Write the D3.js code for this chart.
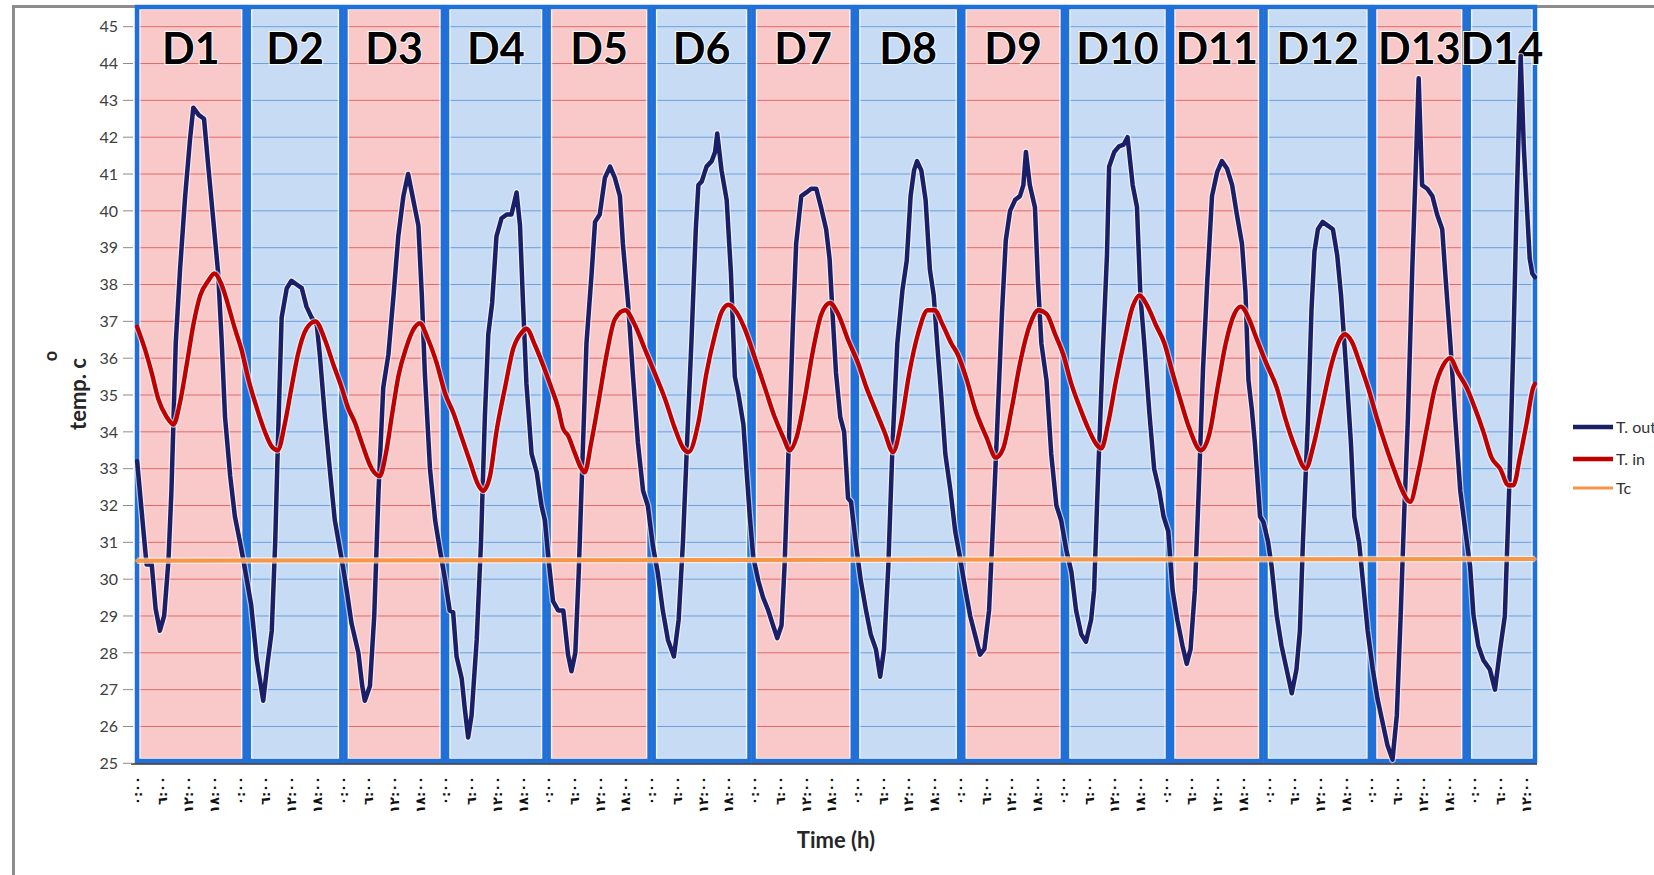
<!DOCTYPE html>
<html>
<head>
<meta charset="utf-8">
<script src="https://d3js.org/d3.v7.min.js"></script>
<style>
  html, body { margin: 0; padding: 0; background: #fff; overflow: hidden; }
  text { font-family: Lato, 'Open Sans', sans-serif; }
  .ytick { font-size: 16px; fill: #404040; }
  .xtick { font-family: 'DejaVu Sans', sans-serif; font-size: 13px; font-weight: bold; fill: #111; }
  .dayLabel { font-size: 43px; font-weight: bold; fill: #000; stroke: #fff; stroke-width: 2px; paint-order: stroke; }
  .axisTitle { font-size: 22px; font-weight: bold; fill: #262626; }
  .legendText { font-size: 16px; fill: #333; }
</style>
</head>
<body>
<div id="chart"></div>
<script>

// ---------------------------------------------------------------- data
// hours since start of D1
const dayLabels = ["D1","D2","D3","D4","D5","D6","D7","D8","D9","D10","D11","D12","D13","D14"];
const dayBounds = [-0.5, 25.55, 48.1, 71.8, 95.5, 120.0, 143.3, 167.4, 192.2, 216.4, 240.9, 262.7, 288.0, 310.1, 326.5];

const yTicks = [25,26,27,28,29,30,31,32,33,34,35,36,37,38,39,40,41,42,43,44,45];
const xTickText = ["٠:٠٠", "٦:٠٠", "١٢:٠٠", "١٨:٠٠"];
const xTickHours = [0,6,12,18,24,30,36,42,48,54,60,66,72,78,84,90,96,102,108,114,120,126,132,138,
  144,150,156,162,168,174,180,186,192,198,204,210,216,222,228,234,240,246,252,258,264,270,276,282,
  288,294,300,306,312,318,324];

// T. out  [hour, temp]
const tOut = [
  [0,33.2],[1.4,31.4],[2.2,30.4],[3.4,30.4],[4.3,29.2],[5.3,28.6],[6.3,29.0],[7.3,30.5],[8.0,32.4],[9.0,36.4],
  [10.0,38.4],[11.2,40.4],[12.3,41.9],[13.1,42.8],[14.4,42.6],[15.6,42.5],[16.6,41.2],[17.8,39.7],[18.9,38.3],
  [19.7,36.5],[20.5,34.4],[21.7,32.8],[22.8,31.7],[24.0,31.0],[24.8,30.5],
  [26.6,29.3],[27.9,27.8],[29.4,26.7],[30.4,27.7],[31.4,28.6],[32.2,31.0],[32.9,34.0],[33.7,37.1],[34.9,37.9],
  [36.0,38.1],[37.2,38.0],[38.4,37.9],[39.5,37.4],[40.7,37.1],[41.9,36.9],[42.6,36.1],[43.8,34.4],[45.0,32.9],
  [46.1,31.6],[47.3,30.8],[48.2,30.2],[49.0,29.6],
  [50.0,28.8],[51.6,28.0],[52.5,27.1],[53.1,26.7],[54.3,27.1],[55.3,29.0],[56.3,32.4],[57.4,35.2],[58.6,36.1],
  [59.8,37.7],[60.9,39.3],[62.1,40.4],[63.2,41.0],[64.4,40.3],[65.6,39.6],[66.4,37.7],[67.1,35.6],[68.3,33.0],
  [69.5,31.6],[70.6,30.8],[71.8,30.0],
  [72.9,29.15],[73.7,29.1],[74.5,27.9],[75.7,27.3],[76.4,26.5],[77.2,25.7],[78.0,26.3],[79.2,28.35],[80.2,31.0],
  [81.1,34.4],[81.9,36.65],[82.8,37.5],[83.8,39.3],[85.0,39.8],[86.2,39.9],[87.3,39.9],[88.5,40.5],[89.3,39.6],
  [90.0,37.5],[90.8,35.3],[92.0,33.4],[93.2,32.9],[94.3,32.0],[95.1,31.6],
  [95.9,30.6],[97.0,29.4],[98.2,29.15],[99.4,29.15],[100.5,27.95],[101.3,27.5],[102.2,28.0],[103.0,30.2],
  [103.8,33.0],[104.8,36.4],[106.0,38.3],[106.8,39.7],[107.9,39.9],[109.1,40.9],[110.3,41.2],[111.4,40.9],
  [112.6,40.4],[113.3,39.1],[114.5,37.5],[115.6,35.6],[116.8,33.7],[118.0,32.4],[119.1,32.0],
  [120.3,30.9],[121.4,30.2],[122.6,29.15],[123.8,28.35],[125.2,27.9],[126.3,28.9],[127.3,31.0],[128.3,33.8],
  [129.3,36.5],[130.3,39.5],[130.9,40.7],[131.7,40.8],[132.8,41.2],[134.0,41.35],[134.8,41.6],[135.3,42.1],
  [136.3,41.1],[137.5,40.3],[138.5,38.3],[139.4,35.5],[140.2,35.05],[141.4,34.2],[142.1,33.0],[142.9,31.7],[143.7,30.6],
  [144.9,29.95],[146.0,29.5],[147.2,29.15],[148.3,28.75],[149.3,28.4],[150.3,28.75],[151.0,30.35],[152.2,34.4],
  [153.0,37.05],[153.7,39.1],[154.9,40.4],[156.1,40.5],[157.2,40.6],[158.4,40.6],[159.5,40.1],[160.7,39.5],
  [161.5,38.7],[162.2,37.2],[163.0,35.6],[164.0,34.4],[164.9,34.0],[165.8,32.2],[166.5,32.1],[167.6,31.0],
  [168.8,29.95],[170.0,29.15],[171.1,28.5],[172.3,28.1],[173.3,27.35],[174.2,28.1],[175.2,30.35],[176.2,33.7],
  [177.3,36.4],[178.5,37.85],[179.5,38.65],[180.4,40.4],[181.2,41.1],[181.9,41.35],[182.9,41.1],[183.9,40.3],
  [184.9,38.4],[185.8,37.7],[186.6,36.4],[187.5,35.05],[188.5,33.4],[189.7,32.4],[190.8,31.3],[191.9,30.6],
  [193.2,29.7],[194.3,29.0],[195.4,28.5],[196.6,27.95],[197.6,28.1],[198.7,29.15],[199.7,31.7],[200.7,34.4],
  [201.7,37.2],[202.6,39.2],[203.6,40.0],[204.8,40.3],[205.9,40.4],[206.7,40.7],[207.3,41.6],[208.2,40.7],
  [209.4,40.1],[210.1,38.1],[210.9,36.4],[212.1,35.4],[213.2,33.4],[214.4,32.0],[215.5,31.6],[216.7,30.8],
  [217.9,30.2],[219.0,29.15],[220.2,28.5],[221.3,28.3],[222.5,28.9],[223.2,29.7],[224.0,32.4],[225.2,36.1],
  [226.2,38.8],[226.7,41.2],[227.9,41.6],[229.0,41.75],[230.1,41.8],[231.0,42.0],[232.2,40.7],[233.2,40.1],
  [234.0,37.7],[234.9,36.4],[236.1,34.5],[237.2,33.0],[238.4,32.4],[239.4,31.7],[240.5,31.3],
  [241.5,29.7],[242.6,28.9],[243.8,28.2],[244.8,27.7],[245.7,28.1],[246.7,29.7],[247.6,32.4],[248.6,35.7],
  [249.6,38.1],[250.7,40.4],[251.9,41.05],[253.0,41.35],[254.2,41.15],[255.4,40.7],[256.5,39.9],[257.7,39.1],
  [258.5,37.8],[259.2,35.4],[260.0,34.6],[260.7,33.7],[261.9,31.7],[262.7,31.55],
  [263.8,31.0],[264.6,30.35],[265.8,29.0],[266.9,28.2],[268.1,27.55],[269.3,26.9],[270.4,27.55],[271.2,28.6],
  [271.9,31.0],[273.1,34.4],[273.9,37.3],[274.6,38.9],[275.4,39.5],[276.5,39.7],[277.7,39.6],[278.9,39.5],
  [279.9,38.8],[280.8,37.7],[282.0,35.7],[283.1,33.7],[283.9,31.7],[285.0,31.0],[286.1,29.7],[287.0,28.6],
  [288.2,27.55],[289.3,26.75],[290.5,26.1],[291.6,25.5],[292.8,25.1],[293.8,26.3],[294.7,29.0],[295.5,31.7],
  [296.4,34.4],[297.4,38.4],[298.2,41.1],[298.9,43.6],[299.7,40.7],[300.9,40.6],[302.1,40.4],[303.2,39.9],
  [304.4,39.5],[305.1,38.3],[306.3,36.4],[307.4,34.4],[308.6,32.4],[309.8,31.3],
  [310.9,30.35],[311.7,29.0],[312.8,28.2],[314.0,27.8],[315.5,27.55],[316.7,27.0],[317.9,28.1],[319.0,29.0],
  [320.0,32.4],[321.0,36.4],[321.8,40.4],[322.7,44.2],[323.4,41.8],[324.1,40.2],[324.8,38.7],[325.4,38.3],[326,38.2]
];

// T. in  [hour, temp]
const tIn = [
  [0,36.85],[1.8,36.25],[3.4,35.6],[4.9,34.9],[6.9,34.4],[8.5,34.2],[10.0,34.8],[11.6,35.85],[13.1,36.9],
  [14.7,37.7],[16.6,38.1],[18.0,38.3],[19.7,38.0],[21.2,37.45],[22.8,36.8],[24.4,36.2],[25.9,35.45],[27.9,34.65],
  [29.8,34.0],[31.4,33.6],[32.8,33.5],[34.5,34.25],[36.0,35.2],[37.5,36.1],[39.5,36.8],[41.6,37.0],[43.8,36.5],
  [45.7,35.85],[47.7,35.2],[49.2,34.65],[50.8,34.25],[52.4,33.7],[54.7,33.0],[56.6,32.8],[58.0,33.4],[59.5,34.5],
  [61.0,35.55],[62.8,36.3],[64.3,36.75],[65.9,36.95],[67.9,36.5],[69.9,35.85],[71.8,35.05],[73.8,34.5],
  [75.7,33.85],[77.6,33.2],[79.6,32.55],[80.7,32.4],[82.3,32.8],[83.8,34.0],[85.8,35.2],[87.7,36.25],[89.7,36.7],
  [90.8,36.8],[92.8,36.35],[94.7,35.8],[96.6,35.2],[98.2,34.65],[99.3,34.1],[100.5,33.9],[102.0,33.45],
  [103.6,33.0],[104.4,32.9],[105.9,33.7],[107.6,34.8],[109.5,36.1],[111.4,37.05],[113.8,37.3],[116.1,36.9],
  [118.4,36.25],[120.7,35.6],[123.1,34.9],[125.4,34.1],[127.4,33.55],[128.6,33.45],[130.9,34.25],[132.8,35.6],
  [134.8,36.65],[136.3,37.25],[137.9,37.45],[139.8,37.25],[141.7,36.8],[144.1,36.0],[146.4,35.2],[148.7,34.4],
  [150.7,33.85],[152.2,33.5],[153.8,33.85],[155.7,34.9],[157.7,36.25],[159.6,37.2],[161.6,37.5],[163.5,37.2],
  [165.8,36.5],[168.2,35.85],[170.1,35.2],[172.0,34.65],[174.3,34.0],[176.3,33.45],[178.2,34.25],[180.1,35.6],
  [182.1,36.65],[184.4,37.3],[186.0,37.3],[187.9,36.9],[189.9,36.4],[191.4,36.1],[193.4,35.45],[195.5,34.6],
  [198.1,33.85],[200.3,33.3],[202.0,33.55],[204.0,34.65],[205.9,35.85],[208.2,36.9],[210.2,37.3],[212.1,37.2],
  [214.1,36.65],[216.0,36.1],[217.9,35.3],[219.9,34.65],[221.8,34.1],[223.8,33.65],[224.9,33.55],[226.5,34.25],
  [228.4,35.45],[230.3,36.5],[232.2,37.4],[233.8,37.7],[235.7,37.4],[237.6,36.9],[239.6,36.4],[241.5,35.6],
  [243.5,34.8],[245.4,34.1],[248.1,33.5],[250.1,33.95],[252.0,35.2],[253.9,36.4],[255.9,37.2],[257.4,37.4],
  [259.4,37.05],[260.7,36.65],[263.4,35.85],[265.8,35.2],[267.7,34.4],[270.0,33.6],[272.6,33.0],[274.3,33.6],
  [276.3,34.65],[278.6,35.85],[280.5,36.5],[281.7,36.65],[283.3,36.45],[285.2,35.85],[287.1,35.2],[289.1,34.4],
  [291.0,33.7],[293.4,32.9],[295.3,32.35],[296.9,32.1],[298.8,32.9],[300.8,34.1],[302.7,35.2],[304.6,35.8],
  [306.2,36.0],[308.1,35.6],[310.1,35.2],[312.0,34.65],[314.0,34.0],[315.9,33.3],[317.9,33.0],[319.8,32.55],
  [321.0,32.55],[322.5,33.3],[324.1,34.25],[325.6,35.2],[326,35.3]
];

// Tc
const tc = [[0,30.5],[326,30.55]];

const series = [
  {name: "T. out", data: tOut, color: "#1a1f68", width: 4.5, curve: d3.curveLinear},
  {name: "T. in",  data: tIn,  color: "#c00000", width: 4.4, curve: d3.curveMonotoneX},
  {name: "Tc",     data: tc,   color: "#f79646", width: 4,   curve: d3.curveLinear}
];

// ---------------------------------------------------------------- setup
const W = 1654, H = 875;
const svg = d3.select("#chart").append("svg").attr("width", W).attr("height", H);

const x = d3.scaleLinear().domain([-0.5, 326.5]).range([135, 1537]);
const y = d3.scaleLinear().domain([25, 45]).range([763.3, 26.7]);

const pink = {fill: "#f9c8c8", grid: "#e06a6a"};
const blue = {fill: "#c7dcf4", grid: "#6a9fdc"};

// chart frame (clipped by the screenshot)
svg.append("path")
  .attr("d", "M13.5," + H + " V6.5 H" + W)
  .attr("fill", "none").attr("stroke", "#8c8c8c").attr("stroke-width", 3);

// day columns
const cols = dayLabels.map((label, i) => ({
  label: label,
  x0: x(dayBounds[i]),
  x1: x(dayBounds[i + 1]),
  c: i % 2 === 0 ? pink : blue
}));

const colG = svg.append("g");
colG.selectAll("rect.fill").data(cols).enter().append("rect")
  .attr("x", d => d.x0).attr("y", 5)
  .attr("width", d => d.x1 - d.x0).attr("height", 758)
  .attr("fill", d => d.c.fill);

// gridlines, tinted per column
cols.forEach(d => {
  colG.selectAll(null).data(yTicks).enter().append("line")
    .attr("x1", d.x0).attr("x2", d.x1)
    .attr("y1", v => y(v)).attr("y2", v => y(v))
    .attr("stroke", d.c.grid).attr("stroke-width", 1);
});

// x axis line
svg.append("line")
  .attr("x1", 131).attr("x2", x(326.5))
  .attr("y1", 764).attr("y2", 764)
  .attr("stroke", "#333").attr("stroke-width", 1.5);

// column borders with a white inner glow
colG.selectAll("rect.glow").data(cols).enter().append("rect")
  .attr("x", d => d.x0 + 5).attr("y", 9.5)
  .attr("width", d => d.x1 - d.x0 - 10).attr("height", 749)
  .attr("fill", "none").attr("stroke", "#fff").attr("stroke-opacity", 0.8).attr("stroke-width", 1.3);
colG.selectAll("rect.border").data(cols).enter().append("rect")
  .attr("x", d => d.x0 + 2).attr("y", 7)
  .attr("width", d => d.x1 - d.x0 - 4).attr("height", 754)
  .attr("fill", "none").attr("stroke", "#1f70d8").attr("stroke-width", 4.5);

// y axis ticks + labels
const yG = svg.append("g");
yG.selectAll("line").data(yTicks).enter().append("line")
  .attr("x1", 123).attr("x2", 133)
  .attr("y1", v => y(v)).attr("y2", v => y(v))
  .attr("stroke", "#8c8c8c").attr("stroke-width", 1);
yG.selectAll("text").data(yTicks).enter().append("text")
  .attr("class", "ytick")
  .attr("x", 118).attr("y", v => y(v)).attr("dy", "0.36em")
  .attr("text-anchor", "end")
  .text(v => v);

// x tick labels, rotated
svg.append("g").selectAll("text").data(xTickHours).enter().append("text")
  .attr("class", "xtick")
  .attr("transform", h => "translate(" + x(h) + ",776) rotate(-90)")
  .attr("dy", "0.35em")
  .attr("text-anchor", "end")
  .text((h, i) => xTickText[i % 4]);

// day labels
svg.append("g").selectAll("text").data(cols).enter().append("text")
  .attr("class", "dayLabel")
  .attr("x", d => (d.x0 + d.x1) / 2).attr("y", 64)
  .attr("text-anchor", "middle")
  .text(d => d.label);

// series
series.forEach(s => {
  const line = d3.line().x(d => x(d[0])).y(d => y(d[1])).curve(s.curve);
  svg.append("path").datum(s.data)
    .attr("d", line).attr("fill", "none")
    .attr("stroke", "#fff").attr("stroke-opacity", 0.6)
    .attr("stroke-width", s.width + 2.5).attr("stroke-linejoin", "round");
  svg.append("path").datum(s.data)
    .attr("d", line).attr("fill", "none")
    .attr("stroke", s.color).attr("stroke-width", s.width)
    .attr("stroke-linejoin", "round").attr("stroke-linecap", "round");
});

// axis titles
svg.append("text").attr("class", "axisTitle")
  .attr("x", 836).attr("y", 848).attr("text-anchor", "middle")
  .text("Time (h)");
svg.append("text").attr("class", "axisTitle")
  .attr("transform", "translate(86,394) rotate(-90)")
  .attr("text-anchor", "middle")
  .text("temp. c");
svg.append("text").attr("class", "axisTitle")
  .attr("transform", "translate(57,356) rotate(-90)")
  .attr("text-anchor", "middle")
  .style("font-size", "18px")
  .text("o");

// legend
const legY = [427, 459, 488];
const leg = svg.append("g").selectAll("g").data(series).enter().append("g")
  .attr("transform", (d, i) => "translate(1573," + legY[i] + ")");
leg.append("line").attr("x1", 0).attr("x2", 40)
  .attr("stroke", d => d.color).attr("stroke-width", (d, i) => i === 2 ? 3 : 4.5);
leg.append("text").attr("class", "legendText")
  .attr("x", 43).attr("dy", "0.35em")
  .text(d => d.name);

</script>
</body>
</html>
